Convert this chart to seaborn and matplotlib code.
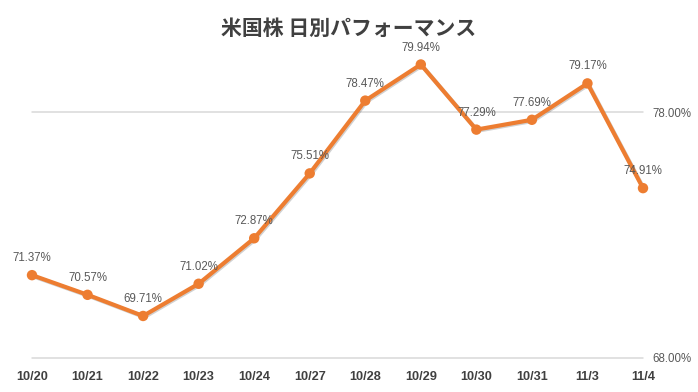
import pandas as pd
import matplotlib
matplotlib.use("Agg")
import matplotlib.pyplot as plt
import matplotlib.patheffects as pe
import seaborn as sns

# Data
dates = ["10/20", "10/21", "10/22", "10/23", "10/24", "10/27",
         "10/28", "10/29", "10/30", "10/31", "11/3", "11/4"]
values = [71.37, 70.57, 69.71, 71.02, 72.87, 75.51,
          78.47, 79.94, 77.29, 77.69, 79.17, 74.91]
y_ticks = [68, 78]
title = "米国株 日別パフォーマンス"

df = pd.DataFrame({"date": dates, "value": values})

sns.set_style("white")
plt.rcParams["font.family"] = ["Liberation Sans", "Noto Sans CJK JP", "DejaVu Sans"]

fig = plt.figure(figsize=(6.98, 3.92), dpi=100)
ax = fig.add_axes([32 / 698, 34 / 392, 611 / 698, 295 / 392])

orange = "#ED7D31"
sns.lineplot(data=df, x="date", y="value", ax=ax, sort=False, color=orange,
             linewidth=3, marker="o", markersize=7.5, markeredgewidth=0,
             clip_on=False, zorder=3)
for line in ax.lines:
    line.set_path_effects([pe.SimpleLineShadow(offset=(0.8, -0.8), alpha=0.18, shadow_color="black"),
                           pe.Normal()])

# Data labels above each point
for i, v in enumerate(values):
    ax.annotate(f"{v:.2f}%", (i, v), xytext=(0, 12.2), textcoords="offset points",
                ha="center", va="center", fontsize=8.3, color="#595959", zorder=4)

ax.set_xlim(0, len(dates) - 1)
ax.set_ylim(68, 80)
ax.yaxis.tick_right()
ax.set_yticks(y_ticks)
ax.set_yticklabels([f"{t:.2f}%" for t in y_ticks])
ax.grid(axis="y", color="#d9d9d9", linewidth=1.1)
ax.grid(axis="x", visible=False)
for gl in ax.yaxis.get_gridlines():
    gl.set_clip_on(False)
ax.tick_params(axis="y", length=0, pad=7, labelsize=8.3, labelcolor="#595959")
ax.tick_params(axis="x", length=0, pad=9.5, labelsize=9.2, labelcolor="#404040")
for lbl in ax.get_xticklabels():
    lbl.set_fontweight("bold")
ax.set_xlabel("")
ax.set_ylabel("")
sns.despine(ax=ax, left=True, bottom=True, right=True, top=True)

fig.text(0.5, 1 - 28 / 392, title, ha="center", va="center", fontsize=15,
         fontweight="bold", color="#404040", family=["Noto Sans CJK JP", "DejaVu Sans"])

fig.savefig("out.png", dpi=100)
